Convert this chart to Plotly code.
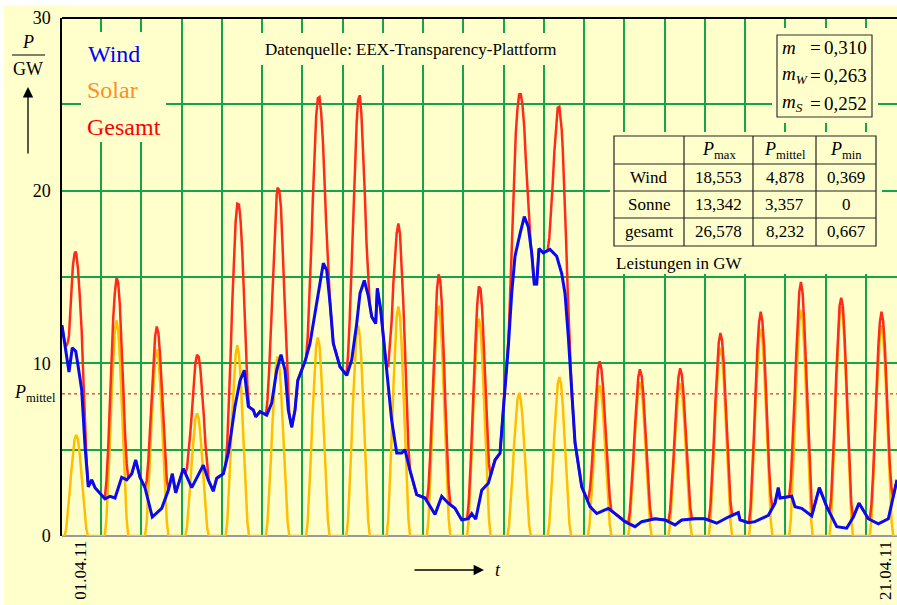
import numpy as np
import plotly.graph_objects as go

# ---------------- data ----------------
# time in days since 01.04.11 00:00, power in GW
wind_t = [0.031, 0.205, 0.287, 0.372, 0.421, 0.521, 0.603, 0.685, 0.769, 0.851,
          1.099, 1.224, 1.348, 1.514, 1.638, 1.763, 1.862, 1.969, 2.093, 2.274,
          2.508, 2.672, 2.771, 2.855, 3.044, 3.253, 3.541, 3.665, 3.789, 3.874,
          4.038, 4.162, 4.328, 4.453, 4.559, 4.659, 4.783, 4.843, 4.949, 5.116,
          5.240, 5.364, 5.471, 5.571, 5.652, 5.737, 5.819, 5.886, 6.067, 6.191,
          6.315, 6.440, 6.522, 6.606, 6.688, 6.770, 6.936, 7.103, 7.227, 7.351,
          7.433, 7.540, 7.639, 7.724, 7.823, 7.863, 7.947, 8.054, 8.136, 8.220,
          8.345, 8.469, 8.551, 8.675, 8.841, 9.048, 9.296, 9.462, 9.626, 9.793,
          9.959, 10.123, 10.208, 10.307, 10.456, 10.620, 10.787, 10.911, 10.992, 11.117,
          11.201, 11.283, 11.407, 11.514, 11.613, 11.698, 11.762, 11.822, 11.879, 11.986,
          12.152, 12.319, 12.443, 12.525, 12.607, 12.692, 12.774, 12.940, 13.146, 13.313,
          13.601, 13.767, 14.015, 14.264, 14.430, 14.760, 15.009, 15.257, 15.423, 15.754,
          16.002, 16.293, 16.581, 16.829, 16.872, 17.078, 17.244, 17.575, 17.741, 17.823,
          17.865, 18.156, 18.238, 18.404, 18.653, 18.841, 19.025, 19.274, 19.522, 19.686,
          19.828, 20.059, 20.307, 20.556, 20.771]
wind_p = [12.2, 9.5, 10.9, 10.7, 10.0, 8.45, 5.2, 2.85, 3.25, 2.8,
          2.15, 2.3, 2.2, 3.4, 3.25, 3.6, 4.4, 3.4, 2.8, 1.1,
          1.6, 2.65, 3.6, 2.5, 3.9, 2.8, 4.1, 3.25, 2.6, 3.35,
          3.6, 4.8, 7.5, 9.0, 9.6, 7.5, 7.3, 6.9, 7.2, 7.0,
          7.7, 9.6, 10.5, 9.6, 7.3, 6.3, 7.3, 9.0, 10.1, 11.15,
          12.9, 14.6, 15.8, 15.4, 13.5, 11.15, 9.8, 9.3, 10.2, 12.3,
          14.05, 14.8, 13.9, 12.7, 12.3, 14.35, 13.1, 10.6, 8.85, 6.7,
          4.8, 4.8, 5.0, 3.8, 2.4, 2.2, 1.25, 2.3, 1.9, 1.6,
          0.93, 1.0, 1.3, 0.97, 2.65, 3.05, 4.4, 4.8, 7.3, 10.95,
          14.05, 16.2, 17.5, 18.5, 17.9, 16.4, 14.6, 14.6, 16.65, 16.4,
          16.6, 16.2, 15.2, 14.05, 11.55, 8.3, 5.4, 2.85, 1.7, 1.3,
          1.6, 1.3, 0.83, 0.54, 0.83, 1.0, 0.93, 0.64, 0.93, 1.0,
          1.0, 0.74, 1.1, 1.35, 0.93, 0.77, 0.83, 1.2, 1.9, 2.8,
          2.2, 2.3, 1.7, 1.6, 1.16, 2.8, 1.7, 0.54, 0.45, 1.1,
          1.9, 1.0, 0.7, 1.0, 3.25]

# solar: hourly values of each day (hours of the day below), zero at night
solar_hours = [3.25, 4.25, 5.25, 6.25, 7.25, 8.25, 9.25, 10.25, 11.25, 12.25, 13.25, 14.25, 15.25]
solar_night_start = 16.25
solar_night_end = 2.25
solar_daily = [
    [0.4, 1.3, 2.5, 3.7, 4.8, 5.6, 5.85, 5.6, 4.8, 3.7, 2.5, 1.3, 0.4],
    [1.0, 2.8, 5.3, 8.0, 10.3, 11.9, 12.5, 11.9, 10.3, 8.0, 5.3, 2.8, 1.0],
    [0.8, 2.4, 4.6, 6.9, 8.9, 10.3, 10.8, 10.3, 8.9, 6.9, 4.6, 2.4, 0.8],
    [0.5, 1.6, 3.0, 4.5, 5.9, 6.8, 7.1, 6.8, 5.9, 4.5, 3.0, 1.6, 0.5],
    [0.8, 2.5, 4.7, 7.1, 9.1, 10.5, 11.05, 10.5, 9.1, 7.1, 4.7, 2.5, 0.8],
    [0.8, 2.3, 4.4, 6.6, 8.6, 9.9, 10.4, 9.9, 8.6, 6.6, 4.4, 2.3, 0.8],
    [0.9, 2.6, 4.9, 7.3, 9.5, 11.0, 11.5, 11.0, 9.5, 7.3, 4.9, 2.6, 0.9],
    [0.9, 2.7, 5.2, 7.8, 10.1, 11.6, 12.2, 11.6, 10.1, 7.8, 5.2, 2.7, 0.9],
    [1.0, 3.0, 5.7, 8.5, 11.0, 12.7, 13.3, 12.7, 11.0, 8.5, 5.7, 3.0, 1.0],
    [1.0, 3.0, 5.7, 8.5, 11.0, 12.7, 13.34, 12.7, 11.0, 8.5, 5.7, 3.0, 1.0],
    [1.0, 2.8, 5.4, 8.1, 10.4, 12.0, 12.6, 12.0, 10.4, 8.1, 5.4, 2.8, 1.0],
    [0.6, 1.9, 3.5, 5.3, 6.9, 7.9, 8.3, 7.9, 6.9, 5.3, 3.5, 1.9, 0.6],
    [0.7, 2.1, 3.9, 5.9, 7.6, 8.8, 9.2, 8.8, 7.6, 5.9, 3.9, 2.1, 0.7],
    [0.7, 2.0, 3.7, 5.6, 7.2, 8.3, 8.75, 8.3, 7.2, 5.6, 3.7, 2.0, 0.7],
    [0.7, 2.0, 3.8, 5.7, 7.4, 8.5, 8.9, 8.5, 7.4, 5.7, 3.8, 2.0, 0.7],
    [0.7, 2.0, 3.8, 5.7, 7.3, 8.4, 8.85, 8.4, 7.3, 5.7, 3.8, 2.0, 0.7],
    [0.8, 2.5, 4.6, 7.0, 9.0, 10.4, 10.9, 10.4, 9.0, 7.0, 4.6, 2.5, 0.8],
    [0.9, 2.7, 5.1, 7.7, 9.9, 11.4, 12.0, 11.4, 9.9, 7.7, 5.1, 2.7, 0.9],
    [1.0, 2.9, 5.6, 8.4, 10.8, 12.5, 13.1, 12.5, 10.8, 8.4, 5.6, 2.9, 1.0],
    [1.0, 3.0, 5.7, 8.6, 11.1, 12.8, 13.3, 12.8, 11.1, 8.6, 5.7, 3.0, 1.0],
    [0.9, 2.7, 5.2, 7.8, 10.1, 11.6, 12.2, 11.6, 10.1, 7.8, 5.2, 2.7, 0.9],
]

date_labels = ["01.04.11", "21.04.11"]
date_days = [0, 20]
y_ticks = [0, 10, 20, 30]

table_cols = ["max", "mittel", "min"]
table_rows = ["Wind", "Sonne", "gesamt"]
table_vals = [["18,553", "4,878", "0,369"],
              ["13,342", "3,357", "0"],
              ["26,578", "8,232", "0,667"]]
m_labels = ["<i>m</i>", "<i>m</i><sub><i>W</i></sub>", "<i>m</i><sub><i>S</i></sub>"]
m_vals = ["0,310", "0,263", "0,252"]
P_mittel = 8.232

# ---------------- build series ----------------
sol_t = [wind_t[0]]
sol_p = [0.0]
for d, vals in enumerate(solar_daily):
    sol_t += [d + solar_night_end / 24] + [d + h / 24 for h in solar_hours] + [d + solar_night_start / 24]
    sol_p += [0.0] + list(vals) + [0.0]
sol_t.append(wind_t[-1])
sol_p.append(0.0)

grid_t = np.union1d(wind_t, sol_t)
grid_t = grid_t[(grid_t >= wind_t[0]) & (grid_t <= wind_t[-1])]
ges_p = np.interp(grid_t, wind_t, wind_p) + np.interp(grid_t, sol_t, sol_p)

# ---------------- styles ----------------
FONT = "Liberation Serif, Times New Roman, serif"
CREAM = "#FFFFCC"
GREEN = "#14A54B"
C_WIND = "#0A0AF0"
C_SOLAR = "#FFBE00"
C_GES = "#FF2A1A"

W, H = 897, 605
ML, MT, MR, MB = 62, 18, 0, 69
PW, PH = W - ML - MR, H - MT - MB
def fx(px):
    return (px - ML) / PW
def fy(py):
    return (H - MB - py) / PH

X0 = 0.0313
X1 = 20.771
def day2paper(d):
    return (d - X0) / (X1 - X0)

fig = go.Figure()
fig.add_trace(go.Scatter(x=sol_t, y=sol_p, mode="lines", line=dict(color=C_SOLAR, width=2.5), hoverinfo="skip"))
fig.add_trace(go.Scatter(x=grid_t, y=ges_p, mode="lines", line=dict(color=C_GES, width=2.5), hoverinfo="skip"))
fig.add_trace(go.Scatter(x=wind_t, y=wind_p, mode="lines", line=dict(color=C_WIND, width=3), hoverinfo="skip"))

fig.update_layout(
    width=W, height=H, margin=dict(l=ML, r=MR, t=MT, b=MB, pad=0),
    paper_bgcolor="white", plot_bgcolor=CREAM, showlegend=False,
    font=dict(family=FONT, size=18, color="black"),
)
fig.update_xaxes(range=[X0, X1], tick0=0, dtick=1, showgrid=True, gridcolor=GREEN, gridwidth=2,
                 showticklabels=False, ticks="", zeroline=False, showline=False)
fig.update_yaxes(range=[0, 30], tickvals=y_ticks, ticktext=[str(v) for v in y_ticks],
                 showgrid=True, gridcolor=GREEN, gridwidth=2,
                 minor=dict(tickvals=[5, 15, 25], showgrid=True, gridcolor=GREEN, gridwidth=2, ticks=""),
                 ticks="", ticklabelstandoff=6, tickfont=dict(family=FONT, size=18, color="black"),
                 zeroline=True, zerolinecolor="#999999", zerolinewidth=2,
                 showline=True, linecolor="black", linewidth=1.5)

shapes = []
# cream page with thin white border on top/left
shapes.append(dict(type="rect", xref="paper", yref="paper", x0=fx(4), x1=fx(W + 2), y0=fy(H + 2), y1=fy(5),
                   fillcolor=CREAM, line=dict(width=0), layer="below"))
# mean line
shapes.append(dict(type="line", xref="paper", yref="y", x0=0, x1=1, y0=P_mittel, y1=P_mittel,
                   line=dict(color="#E00000", width=1, dash="dot"), layer="between"))
# background patches hiding grid (no data passes through these regions)
for (a, b, c, d) in [(81, 32, 166, 142), (250, 33, 574, 65), (772, 28, 878, 123), (610, 132, 882, 274)]:
    shapes.append(dict(type="rect", xref="paper", yref="paper", x0=fx(a), x1=fx(c), y0=fy(d), y1=fy(b),
                       fillcolor=CREAM, line=dict(width=0), layer="above"))
# top frame line
shapes.append(dict(type="line", xref="paper", yref="paper", x0=0, x1=1, y0=1, y1=1,
                   line=dict(color="black", width=2), layer="above"))
# m box frame
shapes.append(dict(type="rect", xref="paper", yref="paper", x0=fx(777), x1=fx(872), y0=fy(117), y1=fy(35),
                   line=dict(color="#333333", width=1.2), layer="above"))
# table frame
col_x = [614, 684, 753, 816, 876]
row_y = [136, 164, 191, 218, 246]
shapes.append(dict(type="rect", xref="paper", yref="paper", x0=fx(col_x[0]), x1=fx(col_x[-1]),
                   y0=fy(row_y[-1]), y1=fy(row_y[0]), line=dict(color="#222222", width=1.2), layer="above"))
for cx in col_x[1:-1]:
    shapes.append(dict(type="line", xref="paper", yref="paper", x0=fx(cx), x1=fx(cx), y0=fy(row_y[-1]), y1=fy(row_y[0]),
                       line=dict(color="#222222", width=1.2), layer="above"))
for ry in row_y[1:-1]:
    shapes.append(dict(type="line", xref="paper", yref="paper", x0=fx(col_x[0]), x1=fx(col_x[-1]), y0=fy(ry), y1=fy(ry),
                       line=dict(color="#222222", width=1.2), layer="above"))
# fraction bar of y title
shapes.append(dict(type="line", xref="paper", yref="paper", x0=fx(12), x1=fx(45), y0=fy(55), y1=fy(55),
                   line=dict(color="black", width=1), layer="above"))
fig.update_layout(shapes=shapes)

def txt(s, px, py, size=17, color="black", xanchor="center", **kw):
    fig.add_annotation(text=s, x=fx(px), y=fy(py), xref="paper", yref="paper", showarrow=False,
                       xanchor=xanchor, yanchor="middle", font=dict(family=FONT, size=size, color=color), **kw)

# legend texts
txt("Wind", 86, 54, size=24, color="#0000FF", xanchor="left")
txt("Solar", 85, 90, size=24, color="#FF8C28", xanchor="left")
txt("Gesamt", 85, 127, size=24, color="#FF0000", xanchor="left")
# source
txt("Datenquelle: EEX-Transparency-Plattform", 411, 50, size=17)
# m box
for i, (lab, val) in enumerate(zip(m_labels, m_vals)):
    yy = 47 + 28 * i
    txt(lab, 780, yy, size=19, xanchor="left")
    txt("=", 815, yy, size=19)
    txt(val, 869, yy, size=19, xanchor="right")
# table
col_c = [(col_x[i] + col_x[i + 1]) / 2 for i in range(4)]
row_c = [(row_y[i] + row_y[i + 1]) / 2 for i in range(4)]
for j, c in enumerate(table_cols):
    txt("<i>P</i><sub>" + c + "</sub>", col_c[j + 1], row_c[0], size=18)
for i, r in enumerate(table_rows):
    txt(r, col_c[0], row_c[i + 1], size=17)
    for j in range(3):
        txt(table_vals[i][j], col_c[j + 1], row_c[i + 1], size=17)
txt("Leistungen in GW", 614, 263, size=17, xanchor="left")
# y title
txt("<i>P</i>", 28, 42, size=18)
txt("GW", 28, 69, size=18)
txt("<i>P</i><sub>mittel</sub>", 58, 393, size=18, xanchor="right")
# arrows
fig.add_annotation(text="", x=fx(28), y=fy(87), xref="paper", yref="paper", ax=0, ay=68,
                   showarrow=True, arrowhead=2, arrowsize=1.6, arrowwidth=1.3, arrowcolor="black")
fig.add_annotation(text="", x=fx(484), y=fy(570), xref="paper", yref="paper", ax=-71, ay=0,
                   showarrow=True, arrowhead=2, arrowsize=1.6, arrowwidth=1.3, arrowcolor="black")
txt("<i>t</i>", 498, 570, size=18)
# date labels (placed at their day, rotated, just right of the day position)
for lab, d in zip(date_labels, date_days):
    fig.add_annotation(text=lab, x=day2paper(d), y=fy(570), xref="paper", yref="paper", xshift=19,
                       showarrow=False, textangle=-90, xanchor="center", yanchor="middle",
                       font=dict(family=FONT, size=17, color="black"))

fig.write_html("out.html", config={"displayModeBar": False})
